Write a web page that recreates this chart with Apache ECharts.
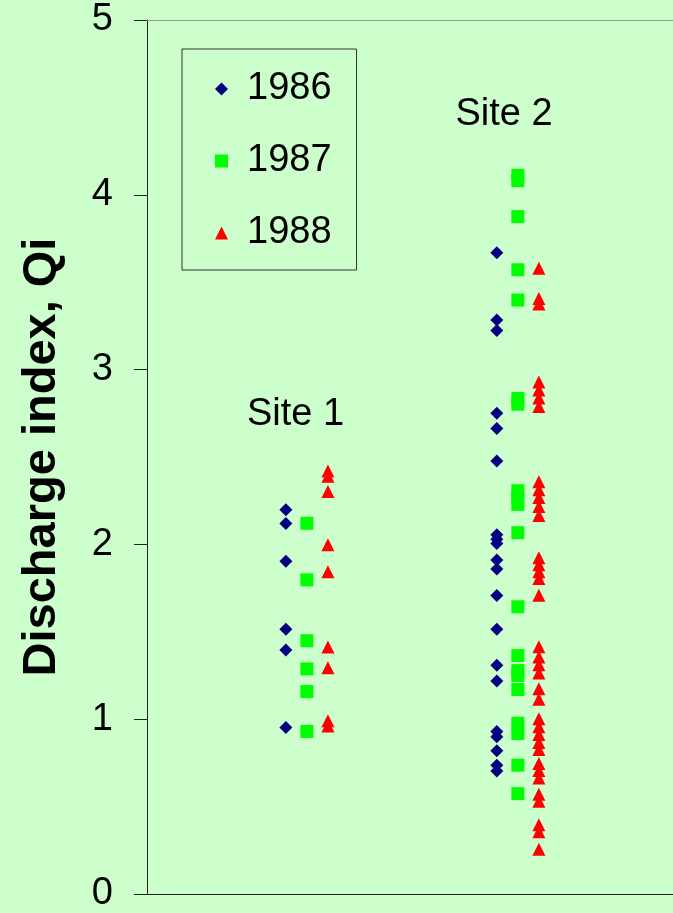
<!DOCTYPE html>
<html>
<head>
<meta charset="utf-8">
<script src="https://cdn.jsdelivr.net/npm/echarts@6/dist/echarts.min.js"></script>
<style>
  html, body { margin: 0; padding: 0; background: #CCFFCC; }
  #chart { width: 673px; height: 913px; }
</style>
</head>
<body>
<div id="chart"></div>
<script>
// Discharge index (Qi) by site and year
const years = ['1986', '1987', '1988'];
const siteNames = ['Site 1', 'Site 2'];
const yTicks = [0, 1, 2, 3, 4, 5];

// horizontal placement of each site and per-year offset within a site
const siteX = [3.04, 7.05];
const yearOffset = [-0.4, 0, 0.4];

const site1_1986 = [2.198, 2.120, 1.903, 1.514, 1.396, 0.952];
const site1_1987 = [2.121, 1.797, 1.449, 1.288, 1.158, 0.930];
const site1_1988 = [2.420, 2.390, 2.302, 1.998, 1.844, 1.413, 1.295, 0.991, 0.961];

const site2_1986 = [3.668, 3.284, 3.223, 2.750, 2.663, 2.477, 2.055, 2.030, 2.005,
  1.911, 1.859, 1.708, 1.514, 1.309, 1.219, 0.930, 0.899, 0.819, 0.736, 0.704];
const site2_1987 = [4.111, 4.081, 3.875, 3.571, 3.398, 2.835, 2.802, 2.307, 2.268,
  2.229, 2.067, 1.643, 1.364, 1.278, 1.250, 1.170, 0.977, 0.918, 0.737, 0.574];
const site2_1988 = [3.580, 3.407, 3.375, 2.929, 2.883, 2.838, 2.789, 2.359, 2.313,
  2.268, 2.217, 2.166, 1.924, 1.883, 1.843, 1.805, 1.709, 1.415, 1.356, 1.311,
  1.265, 1.174, 1.114, 1.003, 0.957, 0.912, 0.866, 0.826, 0.746, 0.707, 0.664,
  0.570, 0.530, 0.396, 0.356, 0.256];

const valuesByYear = [
  [site1_1986, site2_1986],
  [site1_1987, site2_1987],
  [site1_1988, site2_1988]
];

const symbols = ['diamond', 'rect', 'triangle'];
const colors = ['#000080', '#00FF00', '#FF0000'];
const FONT = '"Liberation Sans", Arial, Helvetica, sans-serif';

function pointsFor(yearIdx) {
  const pts = [];
  valuesByYear[yearIdx].forEach((vals, siteIdx) => {
    vals.forEach(v => pts.push([siteX[siteIdx] + yearOffset[yearIdx], v]));
  });
  return pts;
}

const chart = echarts.init(document.getElementById('chart'), null, { renderer: 'canvas' });

chart.setOption({
  backgroundColor: '#CCFFCC',
  animation: false,
  grid: { left: 147, top: 20, right: 0, height: 878 },
  legend: {
    data: years,
    orient: 'vertical',
    left: 182,
    top: 49,
    padding: [21, 25, 18, 33],
    itemWidth: 13,
    itemHeight: 13,
    itemGap: 34,
    borderColor: '#333333',
    borderWidth: 1,
    textStyle: { fontSize: 38, color: '#000', fontFamily: FONT, padding: [0, 0, 0, 14] }
  },
  xAxis: [
    {
      type: 'value', min: 0, max: 10, position: 'bottom',
      axisLine: { show: true, lineStyle: { color: '#222', width: 1 } },
      axisTick: { show: false },
      axisLabel: { show: false },
      splitLine: { show: false }
    },
    {
      type: 'value', min: 0, max: 10, position: 'top',
      axisLine: { show: true, lineStyle: { color: '#999', width: 1 } },
      axisTick: { show: false },
      axisLabel: { show: false },
      splitLine: { show: false }
    }
  ],
  yAxis: {
    type: 'value',
    min: yTicks[0],
    max: yTicks[yTicks.length - 1],
    interval: 1,
    name: 'Discharge index, Qi',
    nameLocation: 'middle',
    nameRotate: 90,
    nameGap: 81,
    nameTextStyle: { fontSize: 47, fontWeight: 'bold', color: '#000', fontFamily: FONT },
    axisLine: { show: true, lineStyle: { color: '#222', width: 1 } },
    axisTick: { show: true, inside: false, length: 13, lineStyle: { color: '#222' } },
    axisLabel: { fontSize: 38, color: '#000', margin: 34, fontFamily: FONT },
    splitLine: { show: false }
  },
  graphic: [
    { type: 'text', x: 295.5, y: 415, style: { text: siteNames[0], textAlign: 'center', textVerticalAlign: 'middle', font: '38px ' + FONT, fill: '#000' } },
    { type: 'text', x: 504, y: 114.5, style: { text: siteNames[1], textAlign: 'center', textVerticalAlign: 'middle', font: '38px ' + FONT, fill: '#000' } }
  ],
  series: years.map((yr, i) => ({
    name: yr,
    type: 'scatter',
    xAxisIndex: 0,
    symbol: symbols[i],
    symbolSize: 13,
    itemStyle: { color: colors[i], opacity: 1 },
    data: pointsFor(i)
  }))
});
</script>
</body>
</html>
